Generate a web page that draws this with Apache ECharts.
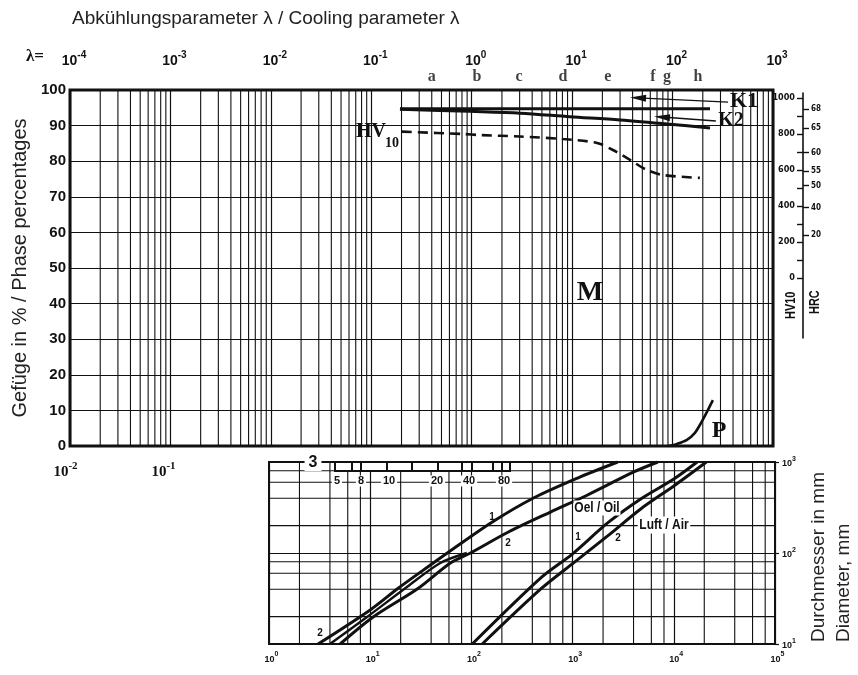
<!DOCTYPE html>
<html>
<head>
<meta charset="utf-8">
<script src="https://cdn.jsdelivr.net/npm/echarts@6/dist/echarts.min.js"></script>
<style>
  html, body { margin: 0; padding: 0; background: #fff; }
  #chart { width: 858px; height: 675px; }
</style>
</head>
<body>
<div id="chart"></div>
<script>
// ---------- data ----------
// Cooling parameter markers a..h along the top of the phase diagram
const lambdaLetters = ['a', 'b', 'c', 'd', 'e', 'f', 'g', 'h'];
const lambdaAtLetters = [0.40, 1.13, 2.96, 8.1, 22.7, 63.8, 87.9, 179];

// Phase curves (lambda vs. percent)
const k1Lambda = [0.193, 236];
const k1Pct = [94.7, 94.7];
const k2Lambda = [0.193, 0.96, 3.03, 9.5, 29.9, 94.2, 236];
const k2Pct = [94.6, 94.0, 93.5, 92.5, 91.6, 90.4, 89.3];
const pLambda = [90, 111, 139, 167, 187, 220, 252];
const pPct = [0, 0.6, 1.7, 3.7, 5.9, 9.6, 12.9];

// Hardness HV10 after cooling (lambda vs. HV)
const hvLambda = [0.202, 0.82, 1.21, 3.03, 8.1, 17.7, 25.5, 37.7, 55.6, 80.4, 187];
const hvValue = [813, 800, 794, 786, 772, 750, 711, 656, 600, 572, 556];

// Direction arrows next to K1 / K2 (tip, tail)
const arrowK1 = [[45.3, 97.8], [357, 96.6]];
const arrowK2 = [[78.5, 92.4], [270, 91.3]];

// Hardness scales
const hvTickValues = [0, 200, 400, 600, 800, 1000];
const hvMinorValues = [0, 100, 200, 300, 400, 500, 600, 700, 800, 900, 1000];
const hrcValues = [20, 40, 50, 55, 60, 65, 68];
const hrcAsHv = [238, 392, 513, 595, 697, 832, 940];

// Diameter nomogram: oil quench (1, 2) and air cooling (1, 2)
const oil1Lambda = [3.05, 10, 18.9, 42, 57.8, 161, 411, 1122, 2790];
const oil1D = [10, 23.7, 41, 77.6, 100, 219, 402, 667, 1000];
const oil2Lambda = [5.05, 10.7, 29.9, 62, 97.8, 232, 605, 1408, 4018, 6950];
const oil2D = [10, 19.8, 41, 77.6, 100, 170, 282, 434, 777, 1000];
const oil2bLambda = [4.0, 9.3, 22.2, 49.3, 90];
const oil2bD = [10, 19.8, 41, 77.6, 100];
const air1Lambda = [102, 482, 1000, 2220, 4710, 10000, 17000];
const air1D = [10, 53, 98, 214, 392, 650, 1000];
const air2Lambda = [128, 482, 1023, 2220, 4710, 10000, 21000];
const air2D = [10, 40, 78, 154, 305, 545, 1000];

// Ruler in the nomogram corner
const rulerLabels = ['5', '8', '10', '20', '40', '80'];

// Grid subdivisions
const mainDecades = [-4, -3, -2, -1, 0, 1, 2];
const mainFactors = [2, 3, 4, 5, 6, 7, 8, 9];
const lowerXDecades = [0, 1, 2, 3, 4];
const lowerYDecades = [1, 2];
const lowerFactors = [2, 4, 6, 8];

// ---------- helpers ----------
const INK = '#111';
const SANS = '"Liberation Sans", Arial, Helvetica, sans-serif';
const NARROW = '"Liberation Sans Narrow", "DejaVu Sans Condensed", "Liberation Sans", sans-serif';
const SERIF = '"Liberation Serif", "DejaVu Serif", "Times New Roman", serif';

const zip = (a, b) => a.map((v, i) => [v, b[i]]);
const subdivisions = (decades, factors) => {
  const out = [];
  decades.forEach(e => factors.forEach(k => out.push(k * Math.pow(10, e))));
  return out;
};
const powLabel = v => {
  const lg = Math.log10(v);
  const e = Math.round(lg);
  if (Math.abs(lg - e) > 1e-6) return '';
  return '{b|10}{s|' + e + '}';
};
const powRich = (big, small, family, shift) => ({
  b: { fontSize: big, fontWeight: 'bold', fontFamily: family, color: INK,
       lineHeight: big + 4, verticalAlign: 'bottom', padding: [0, 0, 0, shift] },
  s: { fontSize: small, fontWeight: 'bold', fontFamily: family, color: INK,
       lineHeight: small, verticalAlign: 'top' }
});

// Thin grid rules drawn through the axis scales (vertical at x = value, horizontal at y = value)
const ruleSeries = (xi, yi, values, dir, from, to) => ({
  type: 'custom', xAxisIndex: xi, yAxisIndex: yi, silent: true, z: 1,
  data: values.map(v => (dir === 'v' ? [v, from] : [from, v])),
  encode: { x: 0, y: 1 },
  renderItem: (params, api) => {
    const v = dir === 'v' ? api.value(0) : api.value(1);
    const a = api.coord(dir === 'v' ? [v, from] : [from, v]);
    const b = api.coord(dir === 'v' ? [v, to] : [to, v]);
    return {
      type: 'line',
      shape: { x1: a[0], y1: a[1], x2: b[0], y2: b[1] },
      style: { stroke: INK, lineWidth: 1.1 }
    };
  }
});
const curve = (xi, yi, data, extra) => Object.assign({
  type: 'line', xAxisIndex: xi, yAxisIndex: yi, data: data,
  showSymbol: false, silent: true, z: 5, smooth: 0.3,
  lineStyle: { color: INK, width: 3 }
}, extra || {});

const mainMinor = subdivisions(mainDecades, mainFactors);
const lowerMinorX = subdivisions(lowerXDecades, lowerFactors);
const lowerMinorY = subdivisions(lowerYDecades, lowerFactors);

// ---------- chart ----------
const chart = echarts.init(document.getElementById('chart'), null, { renderer: 'canvas' });

const txt = (x, y, text, size, family, extra, el) => Object.assign({
  type: 'text', x: x, y: y, z: 100, silent: true,
  style: Object.assign({
    text: text, fontSize: size, fontWeight: 'bold', fontFamily: family, fill: INK,
    align: 'center', verticalAlign: 'middle'
  }, extra || {})
}, el || {});

const rulerEdges = [335, 352, 361, 387, 412, 438, 462, 472, 493, 502, 510];
const rulerLabelX = [337, 361, 389, 437, 469, 504];

const graphics = [
  txt(26, 57, 'λ=', 17, SERIF, { align: 'left' }),
  txt(590, 293, 'M', 28, SERIF),
  txt(719, 431, 'P', 24, SERIF),
  txt(744, 101, 'K1', 22, SERIF),
  txt(731, 121, 'K2', 20, SERIF),
  txt(356, 132, 'HV', 20, SERIF, { align: 'left' }),
  txt(385, 143, '10', 14, SERIF, { align: 'left' }),
  txt(784, 319, 'HV10', 14, SANS, { align: 'left', verticalAlign: 'top' },
      { rotation: Math.PI / 2, scaleX: 0.78 }),
  txt(808, 314, 'HRC', 14, SANS, { align: 'left', verticalAlign: 'top' },
      { rotation: Math.PI / 2, scaleX: 0.78 }),
  {
    type: 'text', x: 806, y: 642, rotation: Math.PI / 2, z: 100, silent: true,
    style: { text: 'Durchmesser in mm\nDiameter, mm', fontSize: 19, lineHeight: 25,
             fontFamily: SANS, fill: '#222', align: 'left', verticalAlign: 'top' }
  },
  txt(313, 463, '3', 16, SANS, { backgroundColor: '#fff', padding: [0, 4] }),
  {
    type: 'rect', z: 100, silent: true,
    shape: { x: 335, y: 462, width: 175, height: 9 },
    style: { fill: '#fff', stroke: INK, lineWidth: 2 }
  },
  txt(597, 508, 'Oel / Oil', 15, SANS, { backgroundColor: '#fff', padding: [0, 1] }, { scaleX: 0.8 }),
  txt(664, 525, 'Luft / Air', 15, SANS, { backgroundColor: '#fff', padding: [1, 2] }, { scaleX: 0.8 }),
  txt(492, 517, '1', 10, SANS),
  txt(508, 543, '2', 10, SANS),
  txt(578, 537, '1', 10, SANS),
  txt(618, 538, '2', 10, SANS),
  txt(320, 633, '2', 10, SANS)
];
rulerEdges.forEach(x => graphics.push({
  type: 'line', z: 101, silent: true,
  shape: { x1: x, y1: 462, x2: x, y2: 471 },
  style: { stroke: INK, lineWidth: 2 }
}));
rulerLabels.forEach((t, i) => graphics.push(
  txt(rulerLabelX[i], 481, t, 11, SANS, { backgroundColor: '#fff', padding: [0, 2] })
));

const option = {
  animation: false,
  backgroundColor: '#fff',
  title: {
    text: 'Abkühlungsparameter λ / Cooling parameter λ',
    left: 67, top: 4,
    textStyle: { fontSize: 19, fontWeight: 'normal', fontFamily: SANS, color: '#222' }
  },
  grid: [
    { left: 70, right: 85, top: 90, bottom: 229, show: true, borderColor: INK, borderWidth: 3 },
    { left: 269, right: 83, top: 462, bottom: 31, show: true, borderColor: INK, borderWidth: 2 },
    { left: 803, top: 93, width: 30, height: 245, show: false },
    { left: 61, top: 446, width: 98, height: 1, show: false }
  ],
  xAxis: [
    {
      gridIndex: 0, type: 'log', logBase: 10, min: 1e-4, max: 1e3, position: 'top',
      axisLine: { show: false }, axisTick: { show: false },
      splitLine: { show: true, lineStyle: { color: INK, width: 1.2 } },
      axisLabel: { margin: 22, formatter: powLabel, rich: powRich(14, 10, SANS, 8) }
    },
    {
      gridIndex: 1, type: 'log', logBase: 10, min: 1, max: 1e5, position: 'bottom',
      axisLine: { show: false }, axisTick: { show: false },
      splitLine: { show: true, lineStyle: { color: INK, width: 1.2 } },
      axisLabel: { margin: 7, formatter: powLabel, rich: powRich(9, 7, SANS, 5) }
    },
    { gridIndex: 2, type: 'value', show: false },
    {
      gridIndex: 3, type: 'log', logBase: 10, min: 0.01, max: 0.1, position: 'bottom',
      axisLine: { show: false }, axisTick: { show: false }, splitLine: { show: false },
      axisLabel: { margin: 14, showMinLabel: true, showMaxLabel: true,
                   formatter: powLabel, rich: powRich(15, 11, SERIF, 9) }
    }
  ],
  yAxis: [
    {
      gridIndex: 0, type: 'value', min: 0, max: 100, interval: 10, position: 'left',
      axisLine: { show: false }, axisTick: { show: false },
      splitLine: { show: true, lineStyle: { color: INK, width: 1.2 } },
      axisLabel: { margin: 4, fontSize: 15, fontWeight: 'bold', fontFamily: SANS, color: INK },
      name: 'Gefüge in % / Phase percentages', nameLocation: 'middle', nameGap: 30,
      nameTextStyle: { fontSize: 20, fontFamily: SANS, color: '#222' }
    },
    { gridIndex: 0, type: 'value', min: -933.3, max: 1044.4, show: false },
    {
      gridIndex: 1, type: 'log', logBase: 10, min: 10, max: 1000, position: 'right',
      axisLine: { show: false },
      axisTick: { show: true, length: 4, lineStyle: { color: INK, width: 1.2 } },
      splitLine: { show: true, lineStyle: { color: INK, width: 1.2 } },
      axisLabel: { margin: 7, formatter: powLabel, rich: powRich(9, 7, SANS, 0) }
    },
    {
      gridIndex: 2, type: 'value', min: -333, max: 1028, position: 'left',
      axisLine: { show: true, lineStyle: { color: INK, width: 1.6 } },
      axisTick: { show: true, length: 6, customValues: hvMinorValues, lineStyle: { color: INK, width: 1.4 } },
      splitLine: { show: false },
      axisLabel: { margin: 8, customValues: hvTickValues, fontSize: 9, fontWeight: 'bold',
                   fontFamily: NARROW, color: INK, formatter: v => String(Math.round(v)) }
    },
    {
      gridIndex: 2, type: 'value', min: -333, max: 1028, position: 'left',
      axisLine: { show: false },
      axisTick: { show: true, inside: true, length: 6, customValues: hrcAsHv,
                  lineStyle: { color: INK, width: 1.4 } },
      splitLine: { show: false },
      axisLabel: {
        inside: true, margin: 8, customValues: hrcAsHv, fontSize: 8, fontWeight: 'bold',
        fontFamily: NARROW, color: INK,
        formatter: v => {
          let best = 0;
          hrcAsHv.forEach((h, i) => { if (Math.abs(h - v) < Math.abs(hrcAsHv[best] - v)) best = i; });
          return String(hrcValues[best]);
        }
      }
    },
    { gridIndex: 3, type: 'value', show: false }
  ],
  series: [
    ruleSeries(0, 0, mainMinor, 'v', 0, 100),
    ruleSeries(1, 2, lowerMinorX, 'v', 10, 1000),
    ruleSeries(1, 2, lowerMinorY, 'h', 1, 1e5),
    curve(0, 0, zip(k1Lambda, k1Pct), {
      smooth: false,
      markLine: {
        silent: true, label: { show: false }, emphasis: { disabled: true },
        lineStyle: { color: INK, width: 1.4, type: 'solid' },
        data: [arrowK1, arrowK2].map(a => [
          { coord: a[0], symbol: 'triangle', symbolSize: [7, 16] },
          { coord: a[1], symbol: 'none' }
        ])
      }
    }),
    curve(0, 0, zip(k2Lambda, k2Pct)),
    curve(0, 1, zip(hvLambda, hvValue), { lineStyle: { color: INK, width: 2.6, type: [10, 6] } }),
    curve(0, 0, zip(pLambda, pPct), { lineStyle: { color: INK, width: 2.6 } }),
    {
      type: 'scatter', xAxisIndex: 0, yAxisIndex: 0, silent: true, z: 6,
      symbolSize: 1, itemStyle: { color: 'rgba(0,0,0,0)' },
      data: lambdaAtLetters.map((v, i) => [v, 100, lambdaLetters[i]]),
      label: {
        show: true, position: 'top', distance: 5, formatter: p => p.data[2],
        fontSize: 16, fontWeight: 'bold', fontFamily: SERIF, color: INK
      }
    },
    curve(1, 2, zip(oil1Lambda, oil1D)),
    curve(1, 2, zip(oil2Lambda, oil2D)),
    curve(1, 2, zip(oil2bLambda, oil2bD), { lineStyle: { color: INK, width: 2.4 } }),
    curve(1, 2, zip(air1Lambda, air1D)),
    curve(1, 2, zip(air2Lambda, air2D))
  ],
  graphic: graphics
};

chart.setOption(option);
</script>
</body>
</html>
